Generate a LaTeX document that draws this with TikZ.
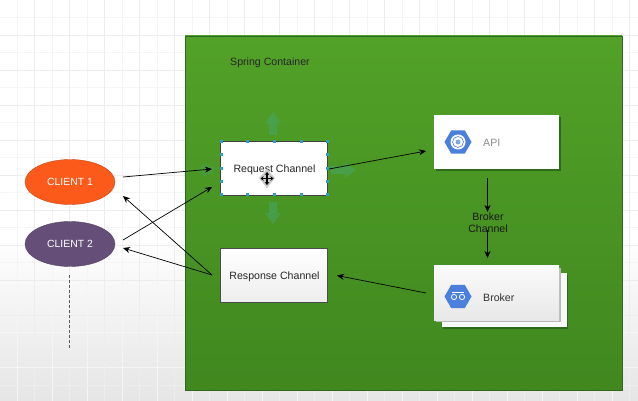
\documentclass[tikz,border=0pt]{standalone}
\usepackage{fontspec}
\setmainfont{Liberation Sans}
\usetikzlibrary{arrows.meta,shapes.geometric}
\definecolor{cgreentop}{HTML}{52A128}
\definecolor{cgreenbot}{HTML}{40881F}
\definecolor{corange}{HTML}{FC5A1B}
\definecolor{cpurple}{HTML}{654F78}
\definecolor{cblue}{HTML}{4A7FDC}
\definecolor{chand}{HTML}{2F9EC8}
\definecolor{cghost}{HTML}{45A668}
\definecolor{cshadow}{HTML}{2F6A1C}
\tikzset{
  conn/.style={draw=black,line width=0.7pt,-{Stealth[length=7pt,width=6pt]}},
  client/.style={ellipse,minimum width=90pt,minimum height=45pt,inner sep=0pt,text=white,font=\fontsize{10.4}{12}\selectfont},
  chan/.style={rectangle,inner sep=0pt,minimum width=107pt,minimum height=53pt},
  lbl/.style={font=\fontsize{10.6}{12.5}\selectfont,text=black!85,inner sep=0pt},
  card/.style={rectangle,inner sep=0pt,minimum width=125pt,minimum height=54pt},
  hexa/.style={regular polygon,regular polygon sides=6,fill=cblue,minimum size=27pt,inner sep=0pt},
  ghost/.style={fill=cghost,opacity=0.55},
  hnd/.style={fill=chand}
}
\begin{document}
\begin{tikzpicture}[x=1pt,y=-1pt]
\useasboundingbox (0,0) rectangle (638,401);
\fill[white] (0,0) rectangle (638,401);
\shade[top color=white,bottom color=black!10] (0,235) rectangle (638,401);
\foreach \x in {17,34.5,...,630} {\draw[black!4,line width=0.4pt] (\x,0) -- (\x,401);}
\foreach \y in {17.5,35,...,400} {\draw[black!4,line width=0.4pt] (0,\y) -- (638,\y);}
\foreach \x in {34.5,69.5,...,630} {\draw[black!7,line width=0.5pt] (\x,0) -- (\x,401);}
\foreach \y in {35,70,...,400} {\draw[black!7,line width=0.5pt] (0,\y) -- (638,\y);}
\node[draw=cshadow,line width=0.4pt,top color=cgreentop,bottom color=cgreenbot,minimum width=437pt,minimum height=354pt,inner sep=0pt] (box) at (403.5,213) {};
\node[lbl,anchor=west] (title) at (230,62.5) {Spring Container};
% ghost arrows
\fill[ghost] (273,112) -- (281,123) -- (277,123) -- (277,135) -- (269,135) -- (269,123) -- (265,123) -- cycle;
\fill[ghost] (273,224) -- (281,213) -- (277,213) -- (277,202) -- (269,202) -- (269,213) -- (265,213) -- cycle;
\fill[ghost] (356,170) -- (345,162) -- (345,166) -- (331,166) -- (331,174) -- (345,174) -- (345,178) -- cycle;
\fill[ghost,opacity=0.3] (196,170) -- (207,162) -- (207,166) -- (214,166) -- (214,174) -- (207,174) -- (207,178) -- cycle;
% nodes
\node[client,draw=corange!80!black,line width=0.4pt,fill=corange] (c1) at (70,182) {CLIENT 1};
\node[client,draw=cpurple!80!black,line width=0.4pt,fill=cpurple] (c2) at (70,244) {CLIENT 2};
\node[chan,fill=white] (req) at (274,168.5) {};
\draw[black!75,line width=0.7pt] (req.south west) rectangle (req.north east);
\node[lbl] (reqt) at (274.5,169.5) {Request Channel};
\node[chan,top color=white,bottom color=black!7] (resp) at (274,275.5) {};
\draw[black!70,line width=0.6pt] (resp.south west) rectangle (resp.north east);
\node[lbl] (respt) at (274.5,276.5) {Response Channel};
\foreach \a/\b in {221/142,247.5/142,274/142,301/142,327/142,221/155,327/155,221/168.5,327/168.5,221/182,327/182,221/195,247.5/195,274/195,301/195,327/195}
  {\fill[hnd] (\a-1.5,\b-1.5) rectangle (\a+1.5,\b+1.5);}
% API
\fill[cshadow] (436,117) rectangle (561,171);
\node[card,fill=white] (api) at (496.5,142) {};
\node[hexa] (apih) at (458,142) {};
\fill[white] (apih) circle (7.5pt);
\draw[cblue,line width=0.6pt] (apih) circle (5.5pt);
\fill[cblue!70] (apih) circle (2.5pt);
\node[lbl,anchor=west,text=black!45] (apit) at (483,142.5) {API};
% Broker
\fill[cshadow] (443,275) rectangle (568,329);
\node[card,fill=black!2] (brk2) at (504,300) {};
\fill[black!28] (436,268) rectangle (561,322);
\node[card,top color=black!2,bottom color=black!9] (brk) at (496.5,293) {};
\node[hexa] (brkh) at (458,296.5) {};
\draw[white,line width=0.8pt] (454,297) circle (2.6pt) (462,297) circle (2.6pt);
\draw[white,line width=0.8pt] (452,292.8) -- (464,292.8);
\node[lbl,anchor=west,text=black!80] (brkt) at (483,297.5) {Broker};
% dotted line
\coordinate (d1) at (69,275);
\coordinate (d2) at (69,348);
\draw[black!65,line width=0.6pt,densely dashed] (d1) -- (d2);
% connectors
\coordinate (a1) at (123,177);
\coordinate (a2) at (212,169);
\draw[conn] (a1) -- (a2);
\coordinate (b1) at (123,240);
\coordinate (b2) at (212,187);
\draw[conn] (b1) -- (b2);
\coordinate (e1) at (212,275);
\coordinate (e2) at (123,196);
\draw[conn] (e1) -- (e2);
\coordinate (f1) at (212,275);
\coordinate (f2) at (123,248);
\draw[conn] (f1) -- (f2);
\coordinate (g1) at (329,169);
\coordinate (g2) at (426,151);
\draw[conn] (g1) -- (g2);
\coordinate (h1) at (487.5,178);
\coordinate (h2) at (487.5,212);
\draw[conn] (h1) -- (h2);
\coordinate (i1) at (487.5,230);
\coordinate (i2) at (487.5,258);
\draw[conn] (i1) -- (i2);
\coordinate (j1) at (426,293);
\coordinate (j2) at (337,275.5);
\draw[conn] (j1) -- (j2);
\node[lbl,align=center,text=black!90] (bc) at (488,222.5) {Broker\\Channel};
% cursor
\fill[black!20] (267,169) -- (275,178) -- (267,188) -- (259,178) -- cycle;
\draw[black,line width=1.1pt,{Stealth[length=3pt,width=4.5pt]}-{Stealth[length=3pt,width=4.5pt]}] (260.5,178.5) -- (273.5,178.5);
\draw[black,line width=1.1pt,{Stealth[length=3pt,width=4.5pt]}-{Stealth[length=3pt,width=4.5pt]}] (267,172) -- (267,185);
\end{tikzpicture}
\end{document}
